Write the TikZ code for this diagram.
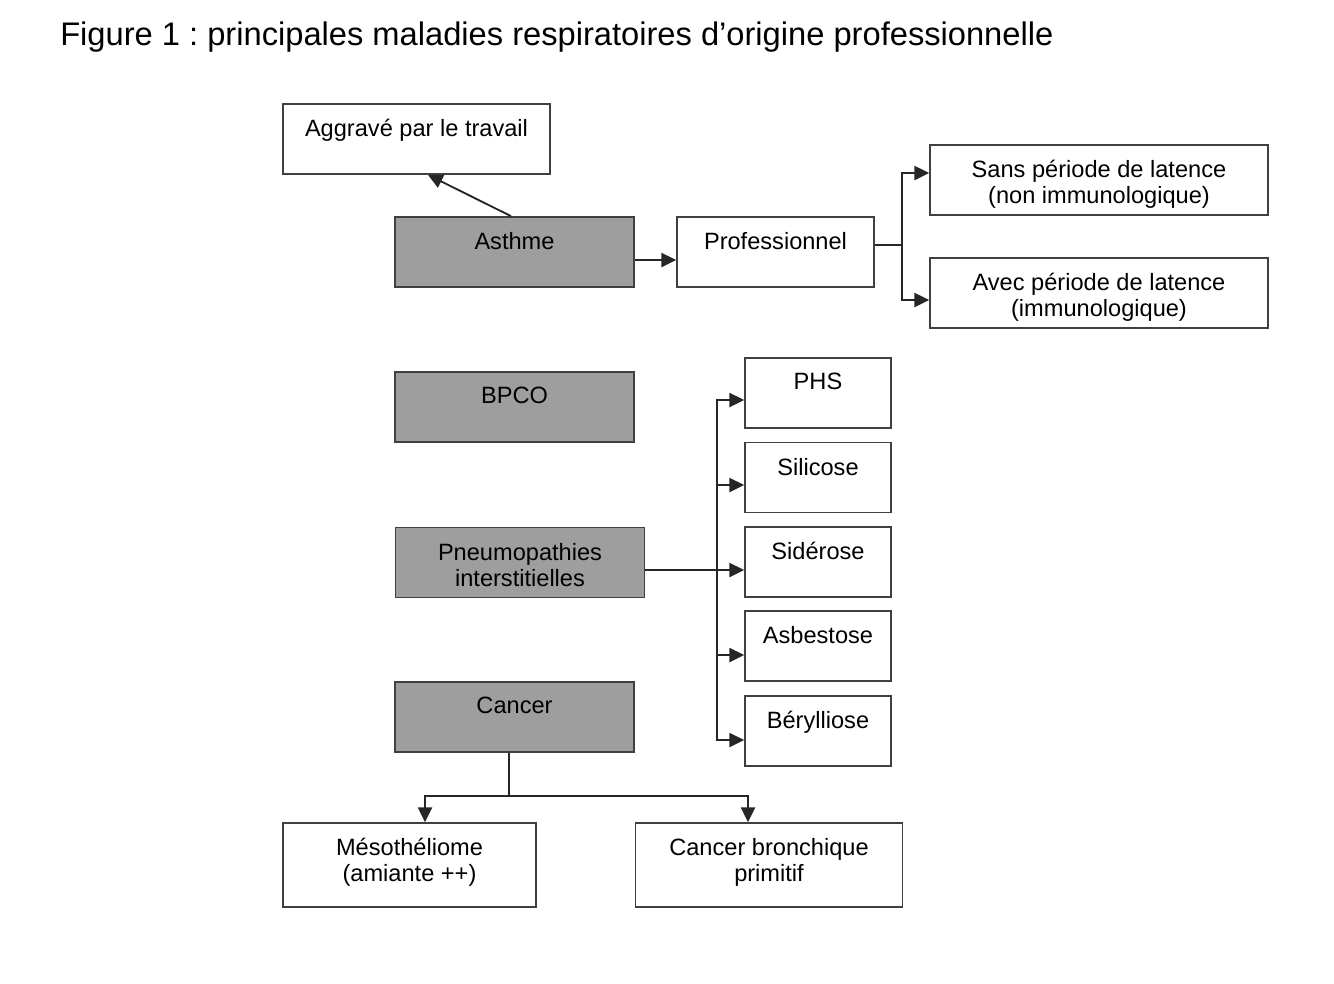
\documentclass[tikz,border=0pt]{standalone}
\usepackage{fontspec}
\setmainfont{Liberation Sans}
\usetikzlibrary{arrows.meta}
\frenchspacing
\begin{document}
\begin{tikzpicture}[x=0.75pt,y=-0.75pt,
  box/.style={draw=black!75,line width=1.3pt,fill=white,inner sep=0pt,minimum height=52.5pt},
  dark/.style={box,fill=black!38},
  txt/.style={anchor=north,inner sep=0pt,yshift=-12pt,align=center,font=\fontsize{17.7}{19.5}\selectfont},
  arr/.style={-{Triangle[length=11pt,width=10.5pt]},line width=1.4pt,draw=black!85},
  link/.style={line width=1.4pt,draw=black!85}]
  \useasboundingbox (0,0) rectangle (1334,983);
  % Title
  \node[anchor=base west,inner sep=0pt,font=\fontsize{24.5}{28}\selectfont] (title) at (60,45) {Figure 1 : principales maladies respiratoires d’origine professionnelle};

  % Asthme
  \node[box,minimum width=200.25pt,label={[txt]north:Aggravé par le travail}] (aggrave) at (416.5,139) {};
  \node[dark,minimum width=179.25pt,label={[txt]north:Asthme}] (asthme) at (514.5,252) {};
  \node[box,minimum width=147.75pt,label={[txt]north:Professionnel}] (prof) at (775.5,252) {};
  \node[box,minimum width=253.5pt,label={[txt]north:Sans période de latence\\(non immunologique)}] (sans) at (1099,180) {};
  \node[box,minimum width=253.5pt,label={[txt]north:Avec période de latence\\(immunologique)}] (avec) at (1099,293) {};

  % BPCO, pneumopathies, cancer
  \node[dark,minimum width=179.25pt,label={[txt]north:BPCO}] (bpco) at (514.5,407) {};
  \node[dark,minimum width=186.75pt,label={[txt]north:Pneumopathies\\interstitielles}] (pneumo) at (520,562.5) {};
  \node[dark,minimum width=179.25pt,label={[txt]north:Cancer}] (cancer) at (514.5,717) {};

  % Pneumoconioses
  \node[box,minimum width=109.5pt,label={[txt]north:PHS}] (phs) at (818,393) {};
  \node[box,minimum width=109.5pt,label={[txt]north:Silicose}] (silicose) at (818,477.5) {};
  \node[box,minimum width=109.5pt,label={[txt]north:Sidérose}] (siderose) at (818,562) {};
  \node[box,minimum width=109.5pt,label={[txt]north:Asbestose}] (asbestose) at (818,646) {};
  \node[box,minimum width=109.5pt,label={[txt]north:Bérylliose}] (berylliose) at (818,731) {};

  % Cancers
  \node[box,minimum width=189.75pt,minimum height=63pt,label={[txt]north:Mésothéliome\\(amiante ++)}] (meso) at (409.5,865) {};
  \node[box,minimum width=200.25pt,minimum height=63pt,label={[txt]north:Cancer bronchique\\primitif}] (bronch) at (769,865) {};

  % Links
  \draw[arr] (asthme.north -| 511,0) -- (aggrave.south -| 428,0);
  \draw[arr] (asthme.east |- 0,260) -- (prof.west |- 0,260);
  \coordinate (pbus) at (902,245);
  \draw[link] (prof.east |- pbus) -- (pbus);
  \draw[arr] (pbus) |- (sans.west |- 0,173);
  \draw[arr] (pbus) |- (avec.west |- 0,300);

  \coordinate (ibus) at (717,570);
  \draw[arr] (pneumo.east |- ibus) -- (siderose.west |- ibus);
  \draw[arr] (ibus) |- (phs.west |- 0,400);
  \draw[arr] (ibus) |- (silicose.west |- 0,485);
  \draw[arr] (ibus) |- (asbestose.west |- 0,655);
  \draw[arr] (ibus) |- (berylliose.west |- 0,740);

  \coordinate (cbus) at (509,796);
  \draw[link] (cancer.south -| cbus) -- (cbus);
  \draw[arr] (cbus) -| (meso.north -| 425,0);
  \draw[arr] (cbus) -| (bronch.north -| 748,0);
\end{tikzpicture}
\end{document}
